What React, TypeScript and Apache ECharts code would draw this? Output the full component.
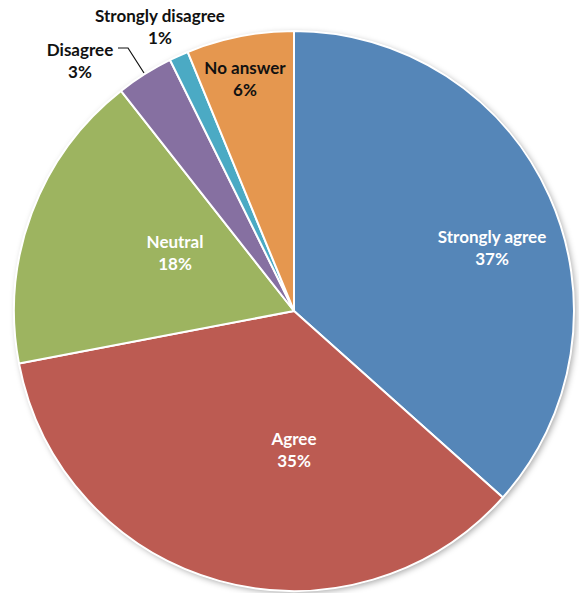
import React, { useEffect, useRef } from "react";
import * as echarts from "echarts";

const categories = ["Strongly agree", "Agree", "Neutral", "Disagree", "Strongly disagree", "No answer"];
const values = [36.6, 35.4, 17.4, 3.3, 1.1, 6.2];
const percentLabels = ["37%", "35%", "18%", "3%", "1%", "6%"];

const COLORS = ["#5586B8", "#BC5B52", "#9DB460", "#8670A1", "#4BAAC4", "#E5974F"];
const LABEL_COLORS = ["#fff", "#fff", "#fff", "#111", "#111", "#111"];
const LABEL_POS: [number, number][] = [
  [492, 247],
  [294, 449],
  [175, 252],
  [80, 60],
  [160, 26],
  [245, 78],
];

export default function App() {
  const ref = useRef<HTMLDivElement>(null);
  useEffect(() => {
    document.body.style.margin = "0";
    const chart = echarts.init(ref.current!, undefined, { renderer: "svg" });
    const center = [294, 311];
    const radius = 280;
    chart.setOption({
      animation: false,
      backgroundColor: "#fff",
      series: [
        {
          type: "pie",
          silent: true,
          center,
          radius,
          z: 1,
          label: { show: false },
          labelLine: { show: false },
          itemStyle: {
            color: "#fff",
            shadowBlur: 6,
            shadowOffsetX: 2,
            shadowOffsetY: 2,
            shadowColor: "rgba(0,0,0,0.35)",
          },
          data: [{ value: 1, name: "" }],
        },
        {
          type: "pie",
          center,
          radius,
          z: 2,
          startAngle: 90,
          clockwise: true,
          avoidLabelOverlap: false,
          itemStyle: { borderColor: "#fff", borderWidth: 2 },
          label: {
            show: true,
            position: "inside",
            fontFamily: "Lato",
            fontWeight: "bold",
            fontSize: 17,
            lineHeight: 22,
            align: "center",
            formatter: (p: any) => `${p.name}\n${percentLabels[p.dataIndex]}`,
          },
          labelLine: { show: true, length: 10, length2: 10, lineStyle: { color: "#111", width: 1.2 } },
          labelLayout: (p: any) => {
            const i = p.dataIndex;
            const out: any = {
              x: LABEL_POS[i][0],
              y: LABEL_POS[i][1],
              align: "center",
              verticalAlign: "middle",
            };
            if (i === 3) {
              out.labelLinePoints = [
                [144, 73],
                [128, 48],
                [118, 48],
              ];
            }
            return out;
          },
          data: categories.map((name, i) => ({
            name,
            value: values[i],
            itemStyle: { color: COLORS[i] },
            label: {
              color: LABEL_COLORS[i],
              position: i === 3 || i === 4 ? "outside" : "inside",
            },
            labelLine: { show: i === 3 },
          })),
        },
      ],
    });
    return () => chart.dispose();
  }, []);
  return <div ref={ref} style={{ width: 579, height: 593 }} />;
}
